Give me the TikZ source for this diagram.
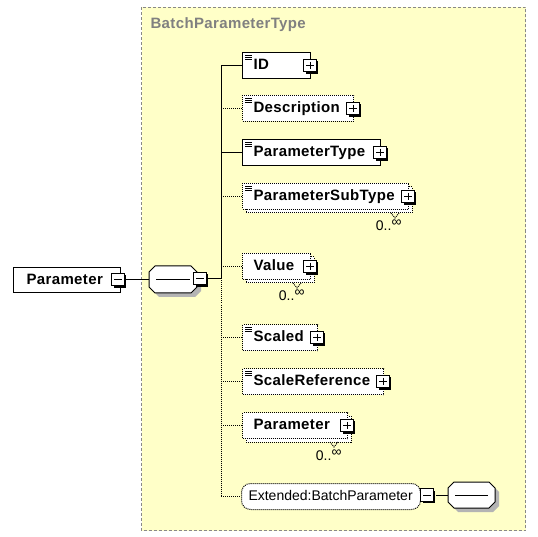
\documentclass[tikz,border=0pt]{standalone}
\usepackage{fontspec}
\setmainfont{Liberation Sans}
\newfontfamily\spacedbold[LetterSpace=2.5]{Liberation Sans Bold}
\usetikzlibrary{shadows,calc}
\definecolor{bgyellow}{RGB}{255,255,200}
\definecolor{framegray}{RGB}{136,136,136}
\definecolor{titlegray}{RGB}{128,128,128}
\definecolor{shadegray}{RGB}{180,180,180}
\newcommand\xsoct[5]{(#1+#5,#2) -- (#3-#5,#2) -- (#3,#2+#5) -- (#3,#4-#5) -- (#3-#5,#4) -- (#1+#5,#4) -- (#1,#4-#5) -- (#1,#2+#5) -- cycle}
\begin{document}
\begin{tikzpicture}[x=1pt,y=-1pt,line width=1pt,
  dotline/.style={dash pattern=on 1pt off 1pt},
  elem/.style={draw=black,fill=white,anchor=north west,minimum height=26pt,
    inner xsep=11pt,inner ysep=0pt,text height=11pt,text depth=3pt,align=left,
    font=\fontsize{15}{18}\spacedbold},
  opt/.style={dotline},
  simple/.style={path picture={\foreach \k in {0,1,2}
    \draw[solid,line width=.55pt] ([xshift=2.5pt,yshift=-2.3pt-2.3pt*\k]path picture bounding box.north west) -- ++(6.5pt,0pt);}},
  pmbox/.style={draw=black,fill=white,solid,minimum size=12.5pt,inner sep=0pt,
    general shadow={fill=black,shadow xshift=2pt,shadow yshift=-2pt}},
  plusbox/.style={pmbox,path picture={
    \draw[solid,line width=.9pt] ([xshift=2.5pt]path picture bounding box.west) -- ([xshift=-2.5pt]path picture bounding box.east);
    \draw[solid,line width=.9pt] ([yshift=-2.5pt]path picture bounding box.north) -- ([yshift=2.5pt]path picture bounding box.south);}},
  minusbox/.style={pmbox,path picture={
    \draw[solid,line width=.9pt] ([xshift=2.5pt]path picture bounding box.west) -- ([xshift=-2.5pt]path picture bounding box.east);}},
  mult/.style={font=\fontsize{14}{15}\selectfont,inner sep=0pt,anchor=base east},
  compbox/.style={inner sep=0pt,draw=none},
]
\useasboundingbox (0,0) rectangle (538,537);
\fill[white] (0,0) rectangle (538,537);
% complex type frame
\draw[framegray,fill=bgyellow,dash pattern=on 3pt off 2pt] (141.5,7.5) rectangle (525.5,530.5);
\node[anchor=base west,inner sep=0pt,text=titlegray,font=\fontsize{15}{18}\spacedbold] (title) at (150,29) {BatchParameterType};

% outer element
\node[elem,minimum width=107pt,text width=81pt,inner xsep=13pt,minimum height=25pt] (param) at (13,267) {Parameter};
\node[minusbox] (parammin) at (118,279.5) {};

% sequence compositor
\node[compbox,minimum width=48pt,minimum height=27pt] (seq) at (173,279.5) {};
\fill[shadegray] \xsoct{153}{270}{201}{297}{6};
\draw[fill=white] \xsoct{149}{266}{197}{293}{6};
\draw (156,279.5) -- (190,279.5);
\node[minusbox] (seqmin) at (200,278.5) {};
\coordinate (trunk) at (221,0);

% children
\node[elem,simple,minimum width=68pt,text width=46pt] (id) at (242,52) {ID};
\node[plusbox] (idp) at ([xshift=-1pt]id.east) {};

\node[elem,opt,simple,minimum width=111pt,text width=89pt] (desc) at (242,95) {Description};
\node[plusbox] (descp) at ([xshift=-1pt]desc.east) {};

\node[elem,simple,minimum width=138pt,text width=116pt] (ptype) at (242,139) {ParameterType};
\node[plusbox] (ptypep) at ([xshift=-1pt]ptype.east) {};

\draw[dotline,fill=white] (246,187) rectangle (412,213);
\node[elem,opt,simple,minimum width=166pt,text width=144pt] (psub) at (242,183) {ParameterSubType};
\node[plusbox] (psubp) at ([xshift=-1pt]psub.east) {};

\draw[dotline,fill=white] (246,257) rectangle (314,283);
\node[elem,opt,minimum width=68pt,text width=46pt] (value) at (242,253) {Value};
\node[plusbox] (valuep) at ([xshift=-1pt]value.east) {};

\node[elem,opt,simple,minimum width=75pt,text width=53pt] (scaled) at (242,324) {Scaled};
\node[plusbox] (scaledp) at ([xshift=-1pt]scaled.east) {};

\node[elem,opt,simple,minimum width=141pt,text width=119pt] (sref) at (242,368) {ScaleReference};
\node[plusbox] (srefp) at ([xshift=-1pt]sref.east) {};

\draw[dotline,fill=white] (246,416) rectangle (351,442);
\node[elem,opt,minimum width=105pt,text width=83pt] (pin) at (242,412) {Parameter};
\node[plusbox] (pinp) at ([xshift=-1pt]pin.east) {};

\node[elem,opt,rounded corners=9pt,minimum width=179pt,text width=165pt,inner xsep=7pt,
  font=\fontsize{14}{17}\selectfont] (ext) at (241,483) {Extended:BatchParameter};
\node[minusbox] (extmin) at (427,495) {};

\node[compbox,minimum width=47pt,minimum height=26pt] (oct) at (471.5,495) {};
\fill[shadegray] \xsoct{452}{486}{499}{512}{6};
\draw[fill=white] \xsoct{448}{482}{495}{508}{6};
\draw (455,495) -- (488,495);

% multiplicities
\draw[dotline] (391,213) -- (395,218) -- (399,213);
\node[mult] (m1) at (402,231) {0..\raisebox{4pt}{∞}};
\draw[dotline] (293,283) -- (297,288) -- (301,283);
\node[mult] (m2) at (305,301) {0..\raisebox{4pt}{∞}};
\draw[dotline] (330,442) -- (334,447) -- (338,442);
\node[mult] (m3) at (342,460) {0..\raisebox{4pt}{∞}};

% connectors
\draw (parammin.east) -- (seq.west);
\draw (id.west) -- (id.west -| trunk) -- (seqmin.east -| trunk) -- (seqmin.east);
\draw (ptype.west -| trunk) -- (ptype.west);
\draw[dotline] (seqmin.east -| trunk) -- (ext.west -| trunk) -- (ext.west);
\draw[dotline] (desc.west -| trunk) -- (desc.west);
\draw[dotline] (psub.west -| trunk) -- (psub.west);
\draw[dotline] (value.west -| trunk) -- (value.west);
\draw[dotline] (scaled.west -| trunk) -- (scaled.west);
\draw[dotline] (sref.west -| trunk) -- (sref.west);
\draw[dotline] (pin.west -| trunk) -- (pin.west);
\draw ([xshift=2pt]extmin.east) -- (oct.west);
\end{tikzpicture}
\end{document}
